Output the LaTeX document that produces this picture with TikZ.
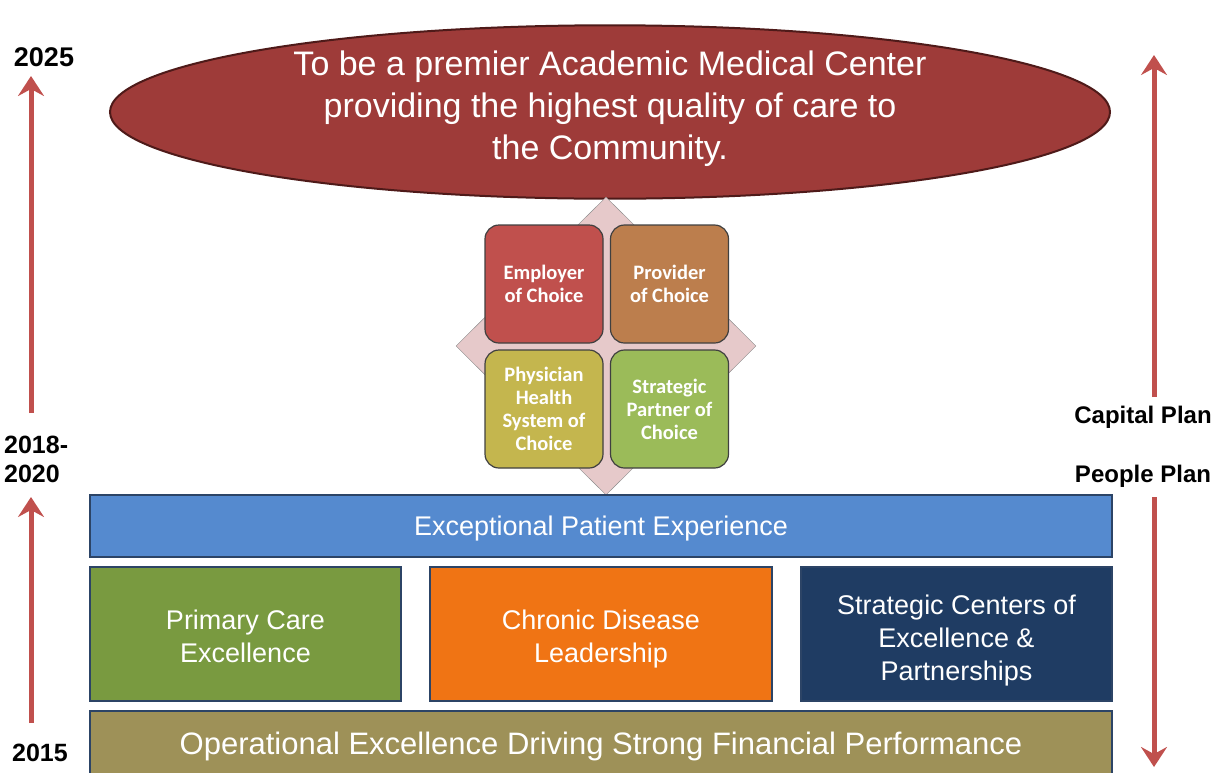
\documentclass[tikz,border=0pt]{standalone}
\usepackage{fontspec}
\setmainfont{Liberation Sans}
\newfontfamily\choicefont{Carlito}
\usepackage{tikz}
\usetikzlibrary{shapes.geometric,arrows.meta,positioning}
\usepackage{xcolor}

\definecolor{visionred}{HTML}{9E3B39}
\definecolor{visionedge}{HTML}{4E1A19}
\definecolor{arrowred}{HTML}{C0504D}
\definecolor{diamondpink}{HTML}{E6C9CA}
\definecolor{employerred}{HTML}{C0504D}
\definecolor{providerbrown}{HTML}{BC7E4D}
\definecolor{physicianolive}{HTML}{C4B64E}
\definecolor{partnergreen}{HTML}{9BBB59}
\definecolor{patientblue}{HTML}{558ACF}
\definecolor{primarygreen}{HTML}{799A40}
\definecolor{chronicorange}{HTML}{F07414}
\definecolor{centersnavy}{HTML}{1F3C63}
\definecolor{operationalolive}{HTML}{9E9158}
\definecolor{barline}{HTML}{2C4466}

% invisible struts to move a text block up or down inside its box
\newcommand\toplift[1]{\rule{0pt}{#1}}
\newcommand\bottomlift[1]{\rule[-#1]{0pt}{1pt}}

\begin{document}
\begin{tikzpicture}[x=1pt,y=-1pt,
    bar/.style={draw=barline,line width=1.5pt,text=white,align=center,inner sep=0pt},
    pillar/.style={bar,minimum height=134pt,font=\fontsize{27}{33}\selectfont},
    choice/.style={draw=black!75,line width=1.2pt,rounded corners=14pt,
      minimum width=118pt,minimum height=118pt,text=white,align=center,inner sep=0pt,
      font=\choicefont\bfseries\fontsize{20.5}{23}\selectfont},
    yearlbl/.style={font=\bfseries\fontsize{25}{29}\selectfont,align=left,inner sep=0pt},
    planlbl/.style={font=\bfseries\fontsize{24}{28}\selectfont,inner sep=0pt},
    timeline/.style={draw=arrowred,line width=5pt,-{Stealth[length=20pt,width=26pt,inset=7pt]}}]
    \useasboundingbox (0,0) rectangle (1220,772);
    % ------------------------------------------------------------------
    %                             NODES
    % ------------------------------------------------------------------
    % vision
    \node[ellipse,draw=visionedge,line width=2pt,fill=visionred,text=white,
          minimum width=1000pt,minimum height=170pt,inner sep=0pt,align=center,
          font=\fontsize{34}{42}\selectfont] (vision) at (610,112)
          {To be a premier Academic Medical Center\\providing the highest quality of care to\\the Community.\bottomlift{14pt}};
    % the four choices
    \node[diamond,draw=black!45,fill=diamondpink,minimum width=300pt,minimum height=298pt,
          inner sep=0pt] (core) at (606,346) {};
    \node[choice,fill=employerred]    (employer)  at (544,284)   {Employer\\of Choice};
    \node[choice,fill=providerbrown]  (provider)  at (669.5,284) {Provider\\of Choice};
    \node[choice,fill=physicianolive] (physician) at (544,409)   {Physician\\Health\\System of\\Choice};
    \node[choice,fill=partnergreen]   (partner)   at (669.5,409) {Strategic\\Partner of\\Choice};
    % bars and pillars
    \node[bar,fill=patientblue,minimum width=1022pt,minimum height=62pt,
          font=\fontsize{27}{30}\selectfont] (patient) at (601,526) {\toplift{24pt}Exceptional Patient Experience};
    \node[pillar,fill=primarygreen,minimum width=311pt]  (primary) at (245.5,634) {\toplift{24pt}Primary Care\\Excellence};
    \node[pillar,fill=chronicorange,minimum width=342pt] (chronic) at (601,634)   {\toplift{29pt}Chronic Disease\\Leadership};
    \node[pillar,fill=centersnavy,minimum width=311pt]   (centers) at (956.5,634) {\toplift{32pt}Strategic Centers of\\Excellence \&\\Partnerships};
    \node[bar,fill=operationalolive,minimum width=1022pt,minimum height=64pt,
          font=\fontsize{31}{34}\selectfont] (operational) at (601,743)
          {\toplift{30pt}Operational Excellence Driving Strong Financial Performance};
    % timeline labels
    \node[yearlbl,font=\bfseries\fontsize{27}{31}\selectfont] (y2025) at (44,57) {2025};
    \node[yearlbl,anchor=west] (y2018) at (4,459) {2018-\\2020};
    \node[yearlbl] (y2015) at (40,753) {2015};
    \node[planlbl] (capital) at (1143,417) {Capital Plan};
    \node[planlbl] (people)  at (1143,476) {People Plan};
    % arrow ends
    \coordinate (l1a) at (31,413);
    \coordinate (l1b) at (31,76);
    \coordinate (l2a) at (31,723);
    \coordinate (l2b) at (31,497);
    \coordinate (r1a) at (1154,397);
    \coordinate (r1b) at (1154,55);
    \coordinate (r2a) at (1154,497);
    \coordinate (r2b) at (1154,767);
    % ------------------------------------------------------------------
    %                             ARROWS
    % ------------------------------------------------------------------
    \draw[timeline] (l1a) -- (l1b);
    \draw[timeline] (l2a) -- (l2b);
    \draw[timeline] (r1a) -- (r1b);
    \draw[timeline] (r2a) -- (r2b);
\end{tikzpicture}
\end{document}
